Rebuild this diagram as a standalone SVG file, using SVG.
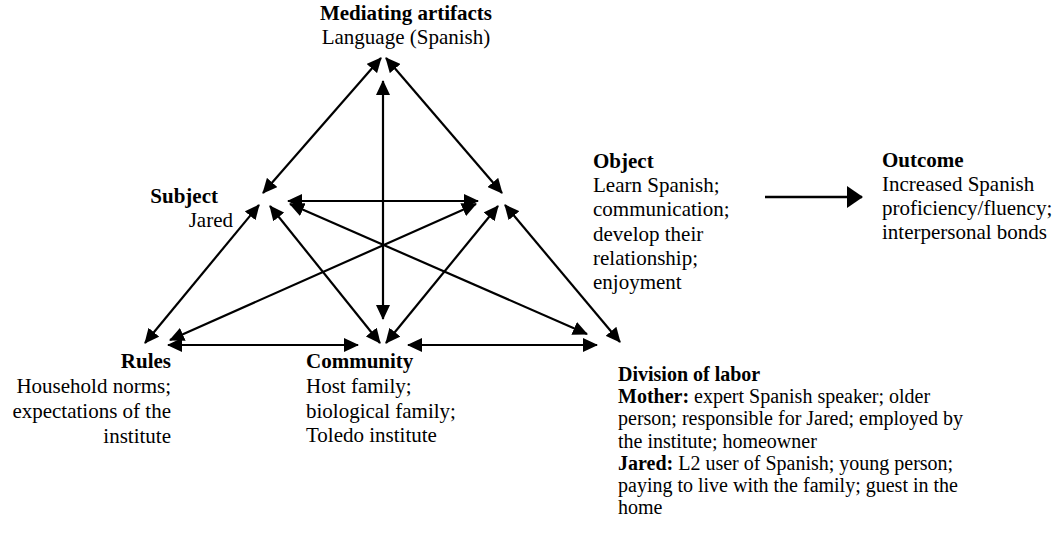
<svg xmlns="http://www.w3.org/2000/svg" width="1055" height="533" viewBox="0 0 1055 533">
<style>
text{font-family:"Liberation Serif","Times New Roman",serif;font-size:21px;fill:#000}
.b{font-weight:bold}
#division text{font-size:20px}
.c line{stroke:#000;stroke-width:2.2;marker-start:url(#ah);marker-end:url(#ah)}
.c line.one{marker-start:none;marker-end:url(#big);stroke-width:2.5}
</style>
<defs>
<marker id="ah" markerUnits="userSpaceOnUse" markerWidth="15" markerHeight="14" refX="14" refY="7" orient="auto-start-reverse" viewBox="0 0 15 14">
<path d="M0,0 L15,7 L0,14 z" fill="#000"/>
</marker>
<marker id="big" markerUnits="userSpaceOnUse" markerWidth="16" markerHeight="22" refX="15" refY="11" orient="auto" viewBox="0 0 16 22">
<path d="M0,0 L16,11 L0,22 z" fill="#000"/>
</marker>
</defs>
<rect width="1055" height="533" fill="#fff"/>
<g class="c" id="connectors">
<line x1="263" y1="193" x2="381" y2="58"/>
<line x1="502" y1="193" x2="386" y2="58"/>
<line x1="383" y1="319" x2="383" y2="81"/>
<line x1="259" y1="205" x2="145" y2="343"/>
<line x1="505" y1="205" x2="620" y2="342"/>
<line x1="288" y1="201" x2="478" y2="201"/>
<line x1="270" y1="206" x2="380" y2="343"/>
<line x1="498" y1="206" x2="386" y2="343"/>
<line x1="170" y1="340" x2="476" y2="204"/>
<line x1="290" y1="204" x2="587" y2="334"/>
<line x1="168" y1="345" x2="358" y2="345"/>
<line x1="408" y1="345" x2="597" y2="345"/>
<line class="one" x1="765" y1="197" x2="862" y2="197"/>
</g>
<g id="mediating">
<text x="406" y="20" text-anchor="middle" class="b">Mediating artifacts</text>
<text x="406" y="44" text-anchor="middle">Language (Spanish)</text>
</g>
<g id="subject">
<text x="218" y="203" text-anchor="end" class="b">Subject</text>
<text x="233" y="227" text-anchor="end">Jared</text>
</g>
<g id="object">
<text x="593" y="168" class="b">Object</text>
<text x="593" y="192">Learn Spanish;</text>
<text x="593" y="216">communication;</text>
<text x="593" y="241">develop their</text>
<text x="593" y="265">relationship;</text>
<text x="593" y="289">enjoyment</text>
</g>
<g id="outcome">
<text x="882" y="167" class="b">Outcome</text>
<text x="882" y="191">Increased Spanish</text>
<text x="882" y="215">proficiency/fluency;</text>
<text x="882" y="239">interpersonal bonds</text>
</g>
<g id="rules">
<text x="171" y="368" text-anchor="end" class="b">Rules</text>
<text x="171" y="393" text-anchor="end">Household norms;</text>
<text x="171" y="418" text-anchor="end">expectations of the</text>
<text x="171" y="443" text-anchor="end">institute</text>
</g>
<g id="community">
<text x="306" y="368" class="b">Community</text>
<text x="306" y="393">Host family;</text>
<text x="306" y="418">biological family;</text>
<text x="306" y="442">Toledo institute</text>
</g>
<g id="division">
<text x="618" y="381" class="b">Division of labor</text>
<text x="618" y="403.2"><tspan class="b">Mother:</tspan> expert Spanish speaker; older</text>
<text x="618" y="425.4">person; responsible for Jared; employed by</text>
<text x="618" y="447.6">the institute; homeowner</text>
<text x="618" y="469.8"><tspan class="b">Jared:</tspan> L2 user of Spanish; young person;</text>
<text x="618" y="492">paying to live with the family; guest in the</text>
<text x="618" y="514.2">home</text>
</g>
</svg>
